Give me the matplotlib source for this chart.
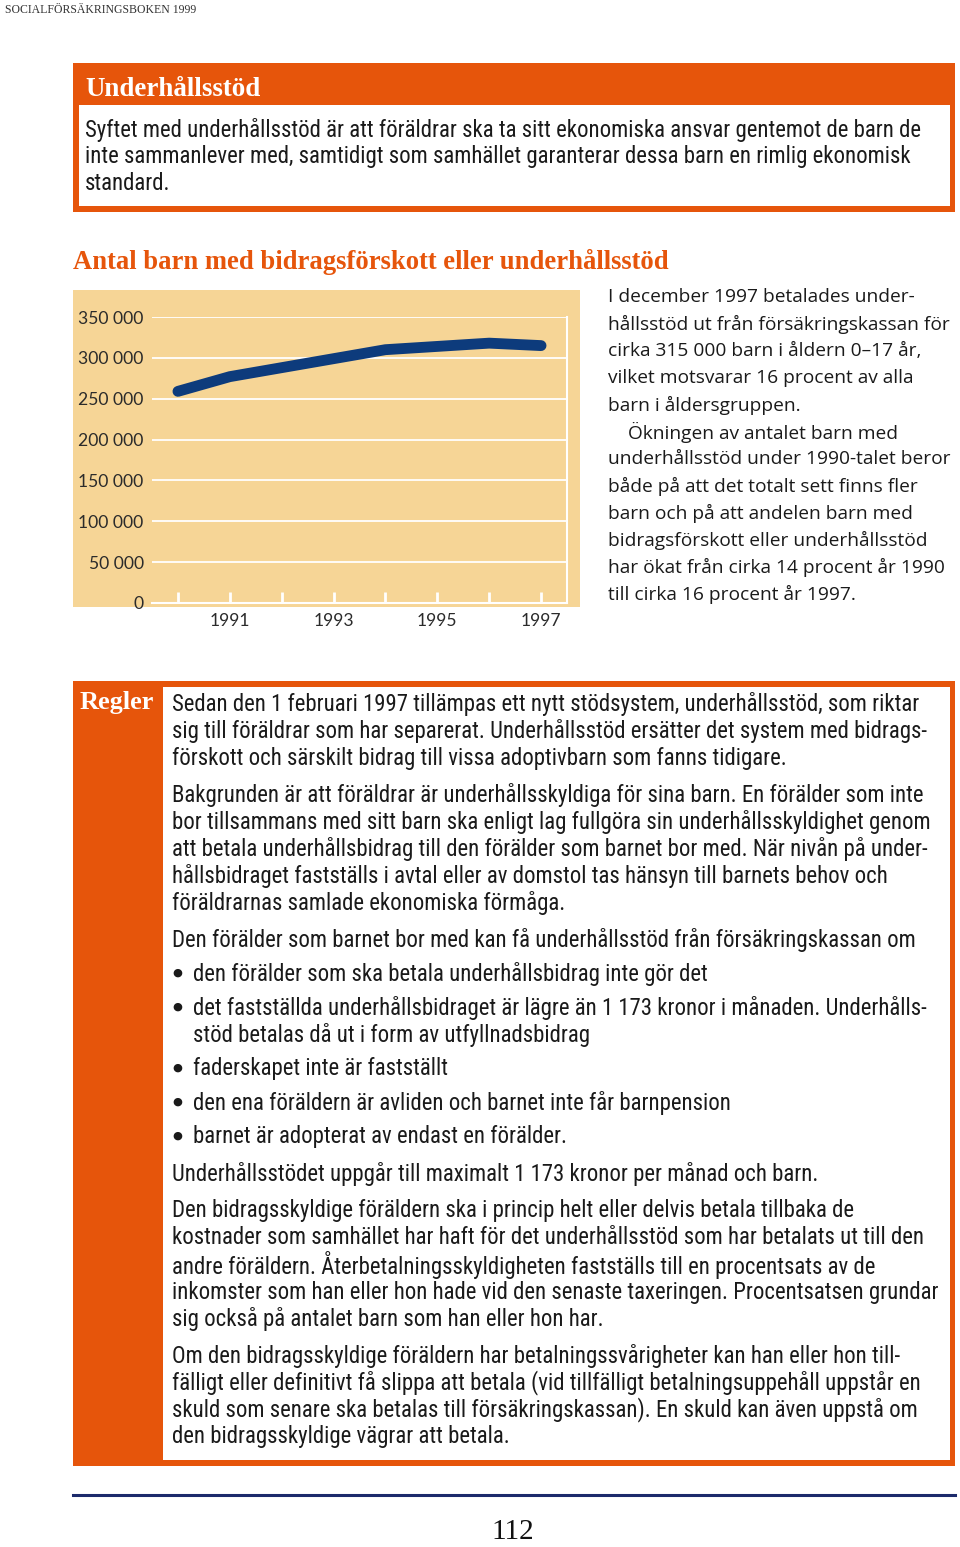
import matplotlib
matplotlib.use("Agg")
import matplotlib.pyplot as plt
from matplotlib import font_manager as fm
from matplotlib.patches import Rectangle
from matplotlib.lines import Line2D

# ---------------- data ----------------
years = [1990, 1991, 1992, 1993, 1994, 1995, 1996, 1997]
children = [259000, 277000, 288000, 299000, 310000, 314000, 318000, 315000]
ytick_values = [0, 50000, 100000, 150000, 200000, 250000, 300000, 350000]
ytick_labels = ["0", "50 000", "100 000", "150 000", "200 000", "250 000", "300 000", "350 000"]
xtick_labels = ["", "1991", "", "1993", "", "1995", "", "1997"]

header_text = "SOCIALFÖRSÄKRINGSBOKEN 1999"
box_title = "Underhållsstöd"
box_lines = [
    "Syftet med underhållsstöd är att föräldrar ska ta sitt ekonomiska ansvar gentemot de barn de",
    "inte sammanlever med, samtidigt som samhället garanterar dessa barn en rimlig ekonomisk",
    "standard.",
]
chart_title = "Antal barn med bidragsförskott eller underhållsstöd"
side_lines = [
    "I december 1997 betalades under-",
    "hållsstöd ut från försäkringskassan för",
    "cirka 315 000 barn i åldern 0–17 år,",
    "vilket motsvarar 16 procent av alla",
    "barn i åldersgruppen.",
    "    Ökningen av antalet barn med",
    "underhållsstöd under 1990-talet beror",
    "både på att det totalt sett finns fler",
    "barn och på att andelen barn med",
    "bidragsförskott eller underhållsstöd",
    "har ökat från cirka 14 procent år 1990",
    "till cirka 16 procent år 1997.",
]
rules_title = "Regler"
rules_lines = [
    (704, False, "Sedan den 1 februari 1997 tillämpas ett nytt stödsystem, underhållsstöd, som riktar"),
    (731, False, "sig till föräldrar som har separerat. Underhållsstöd ersätter det system med bidrags-"),
    (758, False, "förskott och särskilt bidrag till vissa adoptivbarn som fanns tidigare."),
    (795, False, "Bakgrunden är att föräldrar är underhållsskyldiga för sina barn. En förälder som inte"),
    (822, False, "bor tillsammans med sitt barn ska enligt lag fullgöra sin underhållsskyldighet genom"),
    (849, False, "att betala underhållsbidrag till den förälder som barnet bor med. När nivån på under-"),
    (876, False, "hållsbidraget fastställs i avtal eller av domstol tas hänsyn till barnets behov och"),
    (903, False, "föräldrarnas samlade ekonomiska förmåga."),
    (940, False, "Den förälder som barnet bor med kan få underhållsstöd från försäkringskassan om"),
    (974, True, "den förälder som ska betala underhållsbidrag inte gör det"),
    (1008, True, "det fastställda underhållsbidraget är lägre än 1 173 kronor i månaden. Underhålls-"),
    (1035, None, "stöd betalas då ut i form av utfyllnadsbidrag"),
    (1069, True, "faderskapet inte är fastställt"),
    (1103, True, "den ena föräldern är avliden och barnet inte får barnpension"),
    (1137, True, "barnet är adopterat av endast en förälder."),
    (1174, False, "Underhållsstödet uppgår till maximalt 1 173 kronor per månad och barn."),
    (1211, False, "Den bidragsskyldige föräldern ska i princip helt eller delvis betala tillbaka de"),
    (1238, False, "kostnader som samhället har haft för det underhållsstöd som har betalats ut till den"),
    (1265, False, "andre föräldern. Återbetalningsskyldigheten fastställs till en procentsats av de"),
    (1292, False, "inkomster som han eller hon hade vid den senaste taxeringen. Procentsatsen grundar"),
    (1319, False, "sig också på antalet barn som han eller hon har."),
    (1356, False, "Om den bidragsskyldige föräldern har betalningssvårigheter kan han eller hon till-"),
    (1383, False, "fälligt eller definitivt få slippa att betala (vid tillfälligt betalningsuppehåll uppstår en"),
    (1410, False, "skuld som senare ska betalas till försäkringskassan). En skuld kan även uppstå om"),
    (1437, False, "den bidragsskyldige vägrar att betala."),
]
page_number = "112"

# ---------------- style ----------------
ORANGE = "#e6550b"
PANEL = "#f6d596"
NAVY = "#0d3b7c"
RULE = "#1c2a6b"
TXT = "#1a1a1a"


def has_font(name):
    try:
        fm.findfont(fm.FontProperties(family=name), fallback_to_default=False)
        return True
    except Exception:
        return False


def condensed_choice():
    for fam in ["Liberation Sans Narrow", "Roboto Condensed", "Open Sans Condensed"]:
        if has_font(fam):
            return fam, "normal"
    for fam in ["Noto Sans", "DejaVu Sans", "Open Sans", "Roboto"]:
        try:
            path = fm.findfont(fm.FontProperties(family=fam, stretch="condensed"),
                               fallback_to_default=False)
            if "ondensed" in path:
                return fam, "condensed"
        except Exception:
            pass
    return "DejaVu Sans", "normal"


NARROW, NSTRETCH = condensed_choice()
SIDE = "Open Sans" if has_font("Open Sans") else "DejaVu Sans"
SERIF = "Liberation Serif" if has_font("Liberation Serif") else "DejaVu Serif"
TICKF = "Lato" if has_font("Lato") else "DejaVu Sans"

W, H = 960, 1547
fig = plt.figure(figsize=(W / 100, H / 100), dpi=100)
fig.patch.set_facecolor("white")
renderer = fig.canvas.get_renderer()


def fx(x):
    return x / W


def fy(y):
    return 1 - y / H


def fit(text, target, **kw):
    t = fig.text(0, 0, text, fontsize=10, **kw)
    w = t.get_window_extent(renderer).width
    t.remove()
    return 10 * target / w


def rect(x0, y0, x1, y1, color, z=0):
    fig.add_artist(Rectangle((fx(x0), fy(y1)), (x1 - x0) / W, (y1 - y0) / H,
                             transform=fig.transFigure, facecolor=color,
                             edgecolor="none", lw=0, zorder=z))


def put(x, y, s, size, family, color=TXT, weight="normal", ha="left", va="center",
        stretch="normal"):
    fig.text(fx(x), fy(y), s, fontsize=size, family=family, color=color,
             weight=weight, ha=ha, va=va, fontstretch=stretch)


body_size = fit(box_lines[0], 829, family=NARROW, fontstretch=NSTRETCH)
side_size = fit(side_lines[1], 343, family=SIDE)


def body(x, y, s, ha="left", size=None):
    put(x, y, s, size or body_size, NARROW, ha=ha, stretch=NSTRETCH)


# header
put(5, 10, header_text, fit(header_text, 192, family=SERIF), SERIF, color="#333333")

# top box
rect(73, 63, 955, 212, ORANGE)
rect(79, 105, 950, 206, "white", z=0.5)
put(85, 89, box_title, fit(box_title, 176, family=SERIF, weight="bold"), SERIF,
    color="white", weight="bold")
for i, line in enumerate(box_lines):
    body(85, 130 + 27 * i, line)

# chart title
put(73, 262, chart_title, fit(chart_title, 598, family=SERIF, weight="bold"), SERIF,
    color=ORANGE, weight="bold")

# chart panel
rect(73, 290, 580, 607, PANEL)
ax = fig.add_axes([fx(152), fy(603), (567 - 152) / W, (603 - 317) / H])
ax.set_facecolor("none")
ax.set_xlim(1989.5, 1997.5)
ax.set_ylim(0, 350000)
ax.set_yticks(ytick_values)
ax.set_yticklabels(ytick_labels)
ax.set_xticks(years)
ax.set_xticklabels(xtick_labels)
tick_size = fit("350 000", 65, family=TICKF)
ax.tick_params(axis="y", length=0, pad=6, labelsize=tick_size, labelcolor="#2b2b2b")
ax.tick_params(axis="x", direction="in", length=8, width=2, color="white", pad=7,
               labelsize=tick_size, labelcolor="#2b2b2b")
for lab in ax.get_yticklabels() + ax.get_xticklabels():
    lab.set_family(TICKF)
ax.grid(axis="y", color="white", lw=1.3)
ax.set_axisbelow(True)
for side in ["top", "left"]:
    ax.spines[side].set_visible(False)
ax.spines["bottom"].set_color("white")
ax.spines["bottom"].set_linewidth(1.5)
ax.spines["right"].set_color("white")
ax.spines["right"].set_linewidth(1.5)
ax.plot(years, children, color=NAVY, lw=7.8, solid_capstyle="round",
        solid_joinstyle="round", clip_on=False, zorder=3)

# side text
for i, line in enumerate(side_lines):
    put(608, 297 + 27 * i, line, side_size, SIDE)

# rules box
rect(73, 681, 955, 1466, ORANGE)
rect(163, 687, 950, 1460, "white", z=0.5)
put(80, 703, rules_title, fit(rules_title, 75, family=SERIF, weight="bold"), SERIF,
    color="white", weight="bold")
for y, bullet, line in rules_lines:
    if bullet is True:
        put(177, y - 1.5, "●", body_size * 0.5, "DejaVu Sans", ha="center")
        body(193, y, line)
    elif bullet is None:
        body(193, y, line)
    else:
        body(172, y, line)

# bottom rule and page number
fig.add_artist(Line2D([fx(73), fx(955)], [fy(1495), fy(1495)], transform=fig.transFigure,
                      color=RULE, lw=2.2))
put(513, 1532, page_number, fit(page_number, 43, family=SERIF), SERIF, ha="center",
    color="#111111")

fig.savefig("out.png", dpi=100, facecolor="white")
